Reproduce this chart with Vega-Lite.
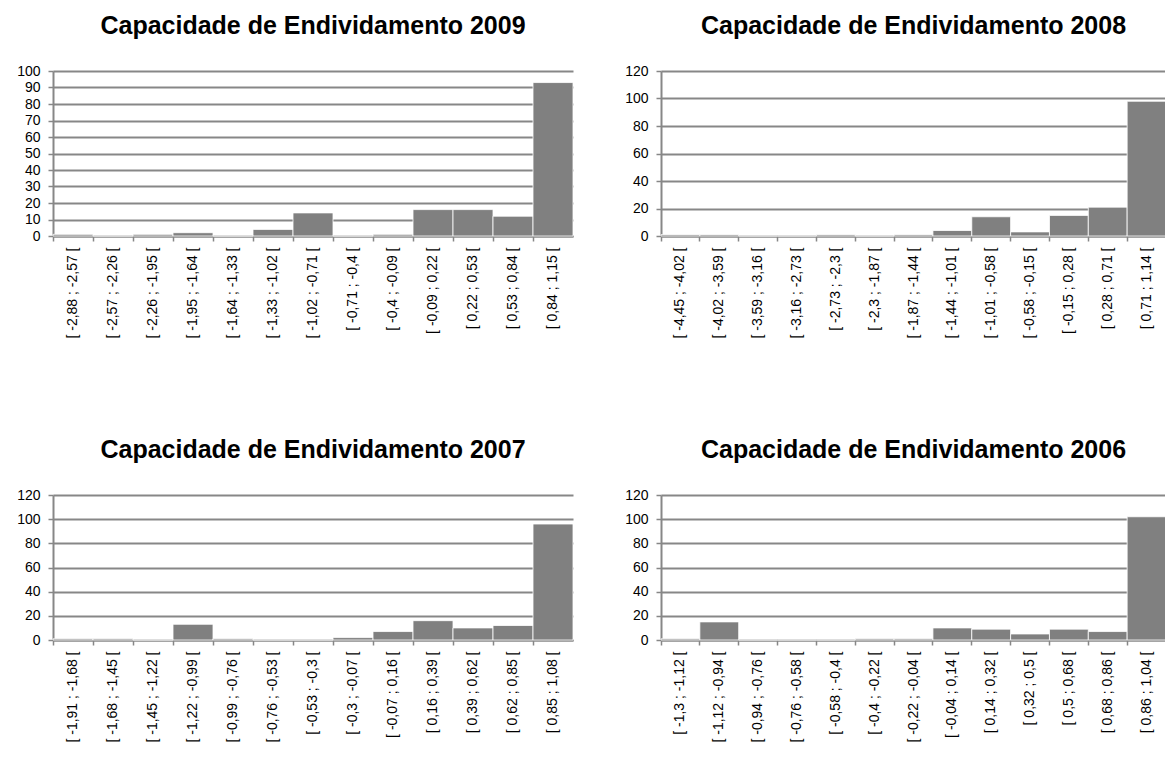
{
  "$schema": "https://vega.github.io/schema/vega-lite/v6.json",
  "padding": {"left": 16, "top": 14, "right": 0, "bottom": 0},
  "background": "#ffffff",
  "datasets": {
    "d2009": [
      {"classe": "[ -2,88 ; -2,57 [", "freq": 1},
      {"classe": "[ -2,57 ; -2,26 [", "freq": 0},
      {"classe": "[ -2,26 ; -1,95 [", "freq": 1},
      {"classe": "[ -1,95 ; -1,64 [", "freq": 2},
      {"classe": "[ -1,64 ; -1,33 [", "freq": 0},
      {"classe": "[ -1,33 ; -1,02 [", "freq": 4},
      {"classe": "[ -1,02 ; -0,71 [", "freq": 14},
      {"classe": "[ -0,71 ; -0,4 [", "freq": 0},
      {"classe": "[ -0,4 ; -0,09 [", "freq": 1},
      {"classe": "[ -0,09 ; 0,22 [", "freq": 16},
      {"classe": "[ 0,22 ; 0,53 [", "freq": 16},
      {"classe": "[ 0,53 ; 0,84 [", "freq": 12},
      {"classe": "[ 0,84 ; 1,15 [", "freq": 93}
    ],
    "d2008": [
      {"classe": "[ -4,45 ; -4,02 [", "freq": 1},
      {"classe": "[ -4,02 ; -3,59 [", "freq": 1},
      {"classe": "[ -3,59 ; -3,16 [", "freq": 0},
      {"classe": "[ -3,16 ; -2,73 [", "freq": 0},
      {"classe": "[ -2,73 ; -2,3 [", "freq": 1},
      {"classe": "[ -2,3 ; -1,87 [", "freq": 0},
      {"classe": "[ -1,87 ; -1,44 [", "freq": 1},
      {"classe": "[ -1,44 ; -1,01 [", "freq": 4},
      {"classe": "[ -1,01 ; -0,58 [", "freq": 14},
      {"classe": "[ -0,58 ; -0,15 [", "freq": 3},
      {"classe": "[ -0,15 ; 0,28 [", "freq": 15},
      {"classe": "[ 0,28 ; 0,71 [", "freq": 21},
      {"classe": "[ 0,71 ; 1,14 [", "freq": 98}
    ],
    "d2007": [
      {"classe": "[ -1,91 ; -1,68 [", "freq": 1},
      {"classe": "[ -1,68 ; -1,45 [", "freq": 1},
      {"classe": "[ -1,45 ; -1,22 [", "freq": 0},
      {"classe": "[ -1,22 ; -0,99 [", "freq": 13},
      {"classe": "[ -0,99 ; -0,76 [", "freq": 1},
      {"classe": "[ -0,76 ; -0,53 [", "freq": 0},
      {"classe": "[ -0,53 ; -0,3 [", "freq": 0},
      {"classe": "[ -0,3 ; -0,07 [", "freq": 2},
      {"classe": "[ -0,07 ; 0,16 [", "freq": 7},
      {"classe": "[ 0,16 ; 0,39 [", "freq": 16},
      {"classe": "[ 0,39 ; 0,62 [", "freq": 10},
      {"classe": "[ 0,62 ; 0,85 [", "freq": 12},
      {"classe": "[ 0,85 ; 1,08 [", "freq": 96}
    ],
    "d2006": [
      {"classe": "[ -1,3 ; -1,12 [", "freq": 1},
      {"classe": "[ -1,12 ; -0,94 [", "freq": 15},
      {"classe": "[ -0,94 ; -0,76 [", "freq": 0},
      {"classe": "[ -0,76 ; -0,58 [", "freq": 0},
      {"classe": "[ -0,58 ; -0,4 [", "freq": 0},
      {"classe": "[ -0,4 ; -0,22 [", "freq": 1},
      {"classe": "[ -0,22 ; -0,04 [", "freq": 1},
      {"classe": "[ -0,04 ; 0,14 [", "freq": 10},
      {"classe": "[ 0,14 ; 0,32 [", "freq": 9},
      {"classe": "[ 0,32 ; 0,5 [", "freq": 5},
      {"classe": "[ 0,5 ; 0,68 [", "freq": 9},
      {"classe": "[ 0,68 ; 0,86 [", "freq": 7},
      {"classe": "[ 0,86 ; 1,04 [", "freq": 102}
    ]
  },
  "spacing": 99,
  "vconcat": [
    {
      "hconcat": [
        {
          "title": {"text": "Capacidade de Endividamento 2009"},
          "width": 520, "height": 165,
          "data": {"name": "d2009"},
          "mark": {"type": "bar", "color": "#808080", "stroke": "#ffffff", "strokeWidth": 0.8},
          "encoding": {
            "x": {"field": "classe", "type": "nominal", "sort": null, "scale": {"paddingInner": 0, "paddingOuter": 0}, "axis": {"title": null, "labelAngle": -90, "bandPosition": 0, "grid": false}},
            "y": {"field": "freq", "type": "quantitative", "scale": {"domain": [0, 100], "nice": false}, "axis": {"title": null, "values": [0, 10, 20, 30, 40, 50, 60, 70, 80, 90, 100]}}
          }
        },
        {
          "title": {"text": "Capacidade de Endividamento 2008"},
          "width": 505, "height": 165,
          "data": {"name": "d2008"},
          "mark": {"type": "bar", "color": "#808080", "stroke": "#ffffff", "strokeWidth": 0.8},
          "encoding": {
            "x": {"field": "classe", "type": "nominal", "sort": null, "scale": {"paddingInner": 0, "paddingOuter": 0}, "axis": {"title": null, "labelAngle": -90, "bandPosition": 0, "grid": false}},
            "y": {"field": "freq", "type": "quantitative", "scale": {"domain": [0, 120], "nice": false}, "axis": {"title": null, "values": [0, 20, 40, 60, 80, 100, 120]}}
          }
        }
      ],
      "spacing": 50
    },
    {
      "hconcat": [
        {
          "title": {"text": "Capacidade de Endividamento 2007"},
          "width": 520, "height": 145,
          "data": {"name": "d2007"},
          "mark": {"type": "bar", "color": "#808080", "stroke": "#ffffff", "strokeWidth": 0.8},
          "encoding": {
            "x": {"field": "classe", "type": "nominal", "sort": null, "scale": {"paddingInner": 0, "paddingOuter": 0}, "axis": {"title": null, "labelAngle": -90, "bandPosition": 0, "grid": false}},
            "y": {"field": "freq", "type": "quantitative", "scale": {"domain": [0, 120], "nice": false}, "axis": {"title": null, "values": [0, 20, 40, 60, 80, 100, 120]}}
          }
        },
        {
          "title": {"text": "Capacidade de Endividamento 2006"},
          "width": 505, "height": 145,
          "data": {"name": "d2006"},
          "mark": {"type": "bar", "color": "#808080", "stroke": "#ffffff", "strokeWidth": 0.8},
          "encoding": {
            "x": {"field": "classe", "type": "nominal", "sort": null, "scale": {"paddingInner": 0, "paddingOuter": 0}, "axis": {"title": null, "labelAngle": -90, "bandPosition": 0, "grid": false}},
            "y": {"field": "freq", "type": "quantitative", "scale": {"domain": [0, 120], "nice": false}, "axis": {"title": null, "values": [0, 20, 40, 60, 80, 100, 120]}}
          }
        }
      ],
      "spacing": 50
    }
  ],
  "config": {
    "font": "Liberation Sans",
    "view": {"stroke": null},
    "axis": {
      "domainColor": "#878787", "domainWidth": 2,
      "tickColor": "#878787", "tickWidth": 1.5, "tickSize": 5,
      "gridColor": "#878787", "gridWidth": 2,
      "labelFont": "Liberation Sans", "labelFontSize": 14, "labelColor": "#000000",
      "labelOverlap": false
    },
    "axisY": {"labelPadding": 8},
    "axisX": {"labelPadding": 6},
    "title": {"font": "Liberation Sans", "fontSize": 25, "fontWeight": "bold", "color": "#000000", "offset": 25}
  }
}
